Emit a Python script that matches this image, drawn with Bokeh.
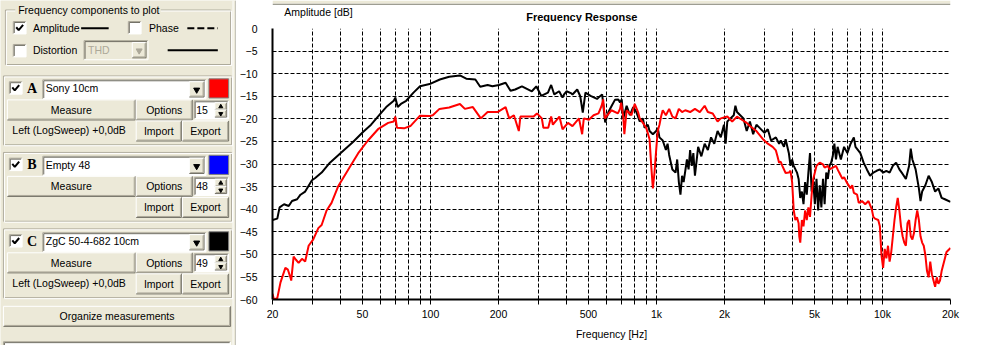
from bokeh.plotting import figure
from bokeh.models import Range1d, FixedTicker, CustomJSTickFormatter, Label
from bokeh.layouts import row, column
from bokeh.embed import file_html
from bokeh.resources import INLINE
from bokeh.core.properties import value

# ---------------- data ----------------
# Measurement C: ZgC 50-4-682 10cm (black)
freq_c = [20, 21.0, 21.5, 22.5, 23.6, 24.4, 25.7, 26.6, 27.9, 29.9, 30.9, 33.0, 35.9, 40.2, 45.3,
          50.3, 54.6, 60.9, 63.7, 68.8, 69.9, 71.6, 74.0, 78.1, 84.1, 89.9, 99.1, 110, 121, 135,
          144, 158, 166, 179, 188, 201, 215, 226, 237, 254, 281, 294, 309, 331, 342, 353, 371,
          384, 390, 400, 418, 425, 446, 460, 472, 485, 511, 546, 554, 575, 593, 613, 634, 655,
          678, 690, 702, 713, 738, 763, 789, 815, 843, 871, 886, 916, 932, 964, 997, 1013, 1031,
          1066, 1101, 1120, 1138, 1176, 1215, 1235, 1256, 1277, 1298, 1319, 1364, 1387, 1409,
          1433, 1456, 1480, 1529, 1580, 1634, 1688, 1744, 1802, 1864, 1926, 1989, 2023, 2058,
          2126, 2198, 2235, 2272, 2348, 2426, 2508, 2591, 2678, 2769, 2861, 3006, 3109, 3213,
          3376, 3488, 3548, 3667, 3728, 3853, 3918, 3983, 4050, 4186, 4256, 4327, 4400, 4473,
          4548, 4624, 4701, 4779, 4859, 4940, 5022, 5106, 5192, 5278, 5366, 5456, 5547, 5639,
          5733, 5829, 5926, 6025, 6126, 6228, 6332, 6437, 6545, 6764, 6992, 7228, 7471, 7597,
          7983, 8252, 8530, 8817, 9114, 9421, 9738, 10066, 10405, 10756, 11118, 11492, 11879,
          12279, 12693, 13120, 13339, 13562, 14019, 14491, 14733, 14979, 15483, 16004, 16543,
          17100, 17676, 18271, 18886, 20000]
db_c = [-42.4, -42.1, -39.6, -38.9, -39.3, -38.2, -37.8, -36.8, -36.1, -33.6, -33.1, -31.9, -29.7,
        -27.5, -25.2, -22.9, -21.3, -18.5, -17.4, -16.0, -15.3, -17.4, -16.7, -16.0, -14.2, -12.8,
        -12.3, -11.3, -10.7, -10.4, -11.1, -11.3, -12.9, -12.5, -12.8, -12.5, -12.0, -13.8, -13.5,
        -12.8, -13.9, -12.8, -14.9, -14.2, -12.5, -14.6, -13.9, -15.3, -14.6, -13.9, -14.3, -14.6,
        -13.5, -15.0, -18.6, -14.2, -14.9, -15.6, -15.3, -14.6, -20.8, -18.5, -17.1, -15.8, -15.7,
        -16.4, -15.7, -19.9, -17.1, -19.2, -17.4, -18.5, -20.6, -19.9, -22.0, -21.3, -22.7, -23.4,
        -22.7, -22.0, -24.1, -24.8, -26.9, -25.5, -28.0, -31.2, -31.9, -29.0, -34.0, -36.8, -32.6,
        -34.0, -29.0, -31.2, -26.9, -30.4, -27.6, -32.6, -26.2, -28.3, -25.5, -26.9, -24.1, -25.5,
        -22.7, -24.1, -21.3, -25.5, -20.6, -19.9, -19.2, -17.1, -18.5, -19.2, -19.9, -22.7, -20.6,
        -23.4, -21.3, -22.0, -23.1, -22.3, -24.8, -24.1, -25.5, -24.8, -26.2, -24.5, -27.6, -30.4,
        -29.0, -30.4, -31.9, -33.3, -37.5, -36.1, -38.9, -34.0, -36.8, -31.9, -27.6, -36.1, -34.0,
        -38.9, -33.3, -40.3, -34.7, -39.6, -33.3, -38.9, -31.9, -33.3, -30.4, -29.7, -28.3, -25.5,
        -29.0, -26.2, -27.6, -29.0, -26.2, -27.6, -25.5, -24.1, -26.2, -27.6, -29.7, -31.2, -32.6,
        -31.9, -31.5, -31.2, -31.9, -31.5, -31.9, -30.4, -29.7, -31.2, -32.2, -33.3, -30.4, -26.6,
        -29.0, -31.2, -35.4, -38.2, -36.1, -34.7, -32.6, -34.0, -36.1, -35.4, -37.5, -37.8, -38.4]

# Measurement A: Sony 10cm (red)
freq_a = [20, 20.3, 21.0, 21.7, 22.8, 23.4, 24.0, 24.2, 24.8, 25.4, 26.1, 27.0, 27.9, 28.9, 30.3,
          31.9, 33.0, 34.7, 36.5, 39.0, 43.3, 47.9, 52.9, 58.6, 65.0, 68.8, 69.9, 71.1, 76.4, 81.5,
          89.9, 99.1, 102.4, 109.6, 121, 135, 142, 154, 167, 179, 198, 215, 223, 234, 246, 250,
          286, 296, 311, 316, 332, 342, 348, 372, 384, 406, 425, 454, 469, 477, 502, 527, 554,
          572, 581, 591, 632, 675, 690, 698, 713, 721, 738, 775, 801, 829, 843, 871, 901, 932,
          948, 964, 980, 997, 1013, 1031, 1048, 1066, 1101, 1138, 1176, 1215, 1256, 1298, 1341,
          1409, 1480, 1555, 1634, 1688, 1774, 1864, 1926, 2058, 2163, 2272, 2387, 2508, 2591,
          2769, 2959, 3109, 3267, 3376, 3431, 3488, 3548, 3605, 3728, 3853, 3918, 3983, 4050,
          4117, 4186, 4256, 4284, 4327, 4400, 4473, 4548, 4624, 4701, 4779, 4859, 4940, 5022,
          5106, 5278, 5456, 5547, 5733, 5829, 6025, 6228, 6332, 6437, 6545, 6654, 6764, 6992,
          7228, 7349, 7471, 7723, 7852, 8116, 8390, 8673, 8965, 9114, 9267, 9579, 9738, 9901,
          10066, 10234, 10405, 10579, 10756, 10935, 11118, 11304, 11492, 11684, 11879, 12077,
          12279, 12484, 12693, 12905, 13120, 13339, 13562, 13788, 14019, 14252, 14491, 14733,
          14979, 15229, 15483, 15742, 16004, 16272, 16543, 16820, 17100, 17386, 17676, 17971,
          18271, 18576, 18886, 19201, 20000]
db_a = [-58.7, -60.0, -59.7, -56.2, -53.0, -53.4, -55.1, -55.8, -50.5, -51.2, -51.9, -51.0, -51.6,
        -48.1, -46.7, -44.2, -43.5, -40.3, -38.6, -35.0, -31.2, -27.6, -24.8, -22.3, -20.9, -20.6,
        -19.5, -22.0, -22.1, -21.6, -19.3, -19.4, -19.2, -17.8, -17.5, -16.7, -17.8, -17.4, -19.9,
        -18.5, -18.5, -17.4, -19.9, -19.2, -22.7, -19.5, -19.5, -18.8, -19.9, -22.0, -22.0, -19.5,
        -21.3, -19.5, -22.3, -20.9, -21.6, -19.9, -23.4, -19.9, -20.2, -19.2, -18.8, -17.1, -15.7,
        -19.9, -18.1, -18.8, -17.8, -16.4, -19.5, -23.4, -18.1, -19.2, -16.7, -18.5, -19.9, -20.9,
        -22.0, -24.5, -30.4, -35.4, -31.9, -26.9, -22.7, -21.3, -19.5, -18.1, -19.2, -17.8, -19.5,
        -19.9, -17.8, -18.5, -18.1, -18.5, -17.8, -18.5, -17.1, -18.5, -18.8, -20.6, -19.9, -19.5,
        -20.6, -19.5, -20.2, -20.9, -21.6, -22.7, -24.5, -25.5, -26.2, -27.0, -28.3, -29.7, -29.5,
        -30.4, -32.0, -31.9, -31.5, -34.0, -40.3, -42.4, -41.8, -43.1, -46.0, -47.4, -42.4, -43.8,
        -40.3, -42.4, -39.6, -41.7, -36.8, -33.3, -31.9, -30.4, -29.7, -30.1, -30.8, -30.4, -31.2,
        -30.8, -30.4, -31.2, -31.9, -32.6, -33.3, -32.9, -34.3, -35.4, -34.7, -36.4, -36.8, -38.6,
        -38.2, -38.9, -38.2, -40.0, -41.7, -42.1, -42.4, -43.8, -50.2, -53.0, -48.8, -50.9, -48.1,
        -51.6, -49.5, -46.0, -42.4, -39.6, -37.5, -40.3, -43.8, -46.0, -47.4, -48.1, -43.1, -42.4,
        -46.0, -46.7, -45.3, -42.4, -40.3, -42.4, -46.0, -47.4, -48.1, -50.2, -53.7, -55.1, -51.6,
        -54.4, -55.8, -57.2, -55.1, -56.5, -55.8, -53.7, -52.3, -50.9, -49.5, -48.6]

x_major = [20, 50, 100, 200, 500, 1000, 2000, 5000, 10000, 20000]
x_minor = [30, 40, 60, 70, 80, 90, 300, 400, 600, 700, 800, 900,
           3000, 4000, 6000, 7000, 8000, 9000]
y_ticks = [-60, -55, -50, -45, -40, -35, -30, -25, -20, -15, -10, -5, 0]

FONT = "Liberation Sans"
FS = "10.5px"
BG = "#ECE9D8"
DK = "#716F64"
MD = "#ACA899"
LT = "#FFFFFF"

# ---------------- left control panel ----------------
pp = figure(width=236, height=345, x_range=Range1d(0, 240), y_range=Range1d(361, 0),
            toolbar_location=None, output_backend="svg", min_border=0,
            x_axis_location=None, y_axis_location=None)
pp.grid.visible = False
pp.background_fill_color = BG
pp.border_fill_color = BG
pp.outline_line_color = None


def box(fig, x0, y0, x1, y1, fill, line=None, lw=1):
    fig.quad(left=x0, right=x1, top=y0, bottom=y1, fill_color=fill, line_color=line, line_width=lw)


def seg(fig, x0, y0, x1, y1, color, lw=1, dash="solid"):
    fig.segment(x0=x0, y0=y0, x1=x1, y1=y1, line_color=color, line_width=lw, line_dash=dash)


def txt(fig, x, y, s, size=FS, align="left", color="black", style="normal", font=FONT):
    fig.text(x=[x], y=[y], text=[s], text_font=value(font), text_font_size=size,
             text_align=align, text_baseline="middle", text_color=color, text_font_style=style)


def raised(x0, y0, x1, y1, label=None):
    box(pp, x0, y0, x1, y1, BG)
    seg(pp, x0, y0, x1, y0, LT)
    seg(pp, x0, y0, x0, y1, LT)
    seg(pp, x0, y1, x1, y1, DK)
    seg(pp, x1, y0, x1, y1, DK)
    seg(pp, x0 + 1, y1 - 1, x1 - 1, y1 - 1, MD)
    seg(pp, x1 - 1, y0 + 1, x1 - 1, y1 - 1, MD)
    if label:
        txt(pp, (x0 + x1) / 2, (y0 + y1) / 2, label, align="center")


def sunken(x0, y0, x1, y1, fill="white"):
    box(pp, x0, y0, x1, y1, fill)
    seg(pp, x0, y0, x1, y0, MD)
    seg(pp, x0, y0, x0, y1, MD)
    seg(pp, x0 + 1, y0 + 1, x1 - 1, y0 + 1, DK)
    seg(pp, x0 + 1, y0 + 1, x0 + 1, y1 - 1, DK)
    seg(pp, x0, y1, x1, y1, LT)
    seg(pp, x1, y0, x1, y1, LT)


def etched(x0, y0, x1, y1):
    box(pp, x0, y0, x1, y1, None, MD)
    box(pp, x0 + 1, y0 + 1, x1 + 1, y1 + 1, None, LT)


def checkbox(x0, y0, checked):
    sunken(x0, y0, x0 + 13, y0 + 13)
    if checked:
        pp.line(x=[x0 + 3, x0 + 5.5, x0 + 10], y=[y0 + 6, y0 + 9, y0 + 3.5],
                line_color="black", line_width=2)


def dropbtn(x0, y0, x1, y1, color="black"):
    raised(x0, y0, x1, y1)
    pp.scatter(x=[(x0 + x1) / 2], y=[(y0 + y1) / 2 + 0.5], marker="inverted_triangle",
               size=6, color=color)


# group box: frequency components
etched(5, 10, 234, 67)
box(pp, 15, 3, 163, 17, BG)
txt(pp, 18, 10, "Frequency components to plot")
checkbox(13, 22, True)
txt(pp, 33, 29, "Amplitude")
seg(pp, 82, 29, 110, 29, "black", 2)
checkbox(130, 22, False)
txt(pp, 151, 29, "Phase")
seg(pp, 190, 29, 221, 29, "black", 2, "7 3")
checkbox(13, 46, False)
txt(pp, 33, 52, "Distortion")
sunken(85, 42, 150, 62, fill=BG)
txt(pp, 89, 52, "THD", color=MD)
dropbtn(134, 44, 148, 60, color=MD)
seg(pp, 170, 52, 221, 52, "black", 2)

panels = [("A", "Sony 10cm", "#FF0000", "15", True),
          ("B", "Empty 48", "#0000FF", "48", False),
          ("C", "ZgC 50-4-682 10cm", "#000000", "49", True)]
for k, (letter, name, col, num, sub) in enumerate(panels):
    d = 80 * k
    etched(3, 79 + d, 235, 151 + d)
    checkbox(9, 85 + d, True)
    txt(pp, 32, 92 + d, letter, size="14px", style="bold", font="Liberation Serif", align="center")
    sunken(43, 83 + d, 209, 103 + d)
    txt(pp, 46, 92 + d, name)
    dropbtn(192, 85 + d, 207, 101 + d)
    box(pp, 212, 82 + d, 232, 102 + d, col, "#808080")
    raised(7, 104 + d, 137, 125 + d, "Measure")
    raised(138, 104 + d, 195, 125 + d, "Options")
    sunken(197, 105 + d, 232, 124 + d)
    txt(pp, 199, 114.5 + d, num)
    raised(218, 107 + d, 230, 114.5 + d)
    raised(218, 114.5 + d, 230, 122 + d)
    pp.scatter(x=[224, 224], y=[111 + d, 118.5 + d], marker=["triangle", "inverted_triangle"],
               size=4, color="black")
    if sub:
        txt(pp, 12, 136 + d, "Left (LogSweep) +0,0dB")
    raised(138, 126 + d, 184, 147 + d, "Import")
    raised(185, 126 + d, 232, 147 + d, "Export")

raised(3, 320, 234, 341, "Organize measurements")
sunken(3, 357, 234, 370)
seg(pp, 236.5, 0, 236.5, 361, LT)
seg(pp, 239.5, 0, 239.5, 361, "#A0A0A0")

# ---------------- header strip above the chart (titles) ----------------
pt = figure(width=731, height=22, x_range=Range1d(240, 983), y_range=Range1d(23, 0),
            toolbar_location=None, output_backend="svg", min_border=0,
            x_axis_location=None, y_axis_location=None)
pt.grid.visible = False
pt.outline_line_color = None
pt.background_fill_color = "white"
pt.border_fill_color = "white"
box(pt, 240, 0, 983, 3.4, BG)
box(pt, 240, 3.4, 983, 4.8, "#9D9D92")
txt(pt, 253, 12.5, "Amplitude [dB]")
txt(pt, 579, 17.5, "Frequency Response", size="11px", style="bold", align="center")

# ---------------- chart ----------------
p = figure(width=731, height=323, x_axis_type="log", x_range=Range1d(20, 20000),
           y_range=Range1d(-60, 0), toolbar_location=None, output_backend="svg",
           min_border_left=35, min_border_right=17, min_border_top=6, min_border_bottom=46)
p.background_fill_color = "white"
p.border_fill_color = "white"
p.outline_line_color = None

p.xaxis.ticker = FixedTicker(ticks=x_major, minor_ticks=x_minor)
p.xaxis.formatter = CustomJSTickFormatter(code="return tick >= 1000 ? (tick/1000) + 'k' : String(tick);")
p.xaxis.axis_line_width = 2
p.xaxis.axis_line_color = "black"
p.xaxis.major_tick_out = 5
p.xaxis.major_tick_in = 0
p.xaxis.minor_tick_out = 5
p.xaxis.minor_tick_in = 0
p.xaxis.major_tick_line_color = "black"
p.xaxis.minor_tick_line_color = "black"
p.xaxis.major_label_standoff = 3
p.xaxis.major_label_text_font = FONT
p.xaxis.major_label_text_font_size = FS
p.xaxis.major_label_text_color = "black"
p.xaxis.axis_label = "Frequency [Hz]"
p.xaxis.axis_label_standoff = 5
p.xaxis.axis_label_text_font = FONT
p.xaxis.axis_label_text_font_size = FS
p.xaxis.axis_label_text_font_style = "normal"
p.xaxis.axis_label_text_color = "black"

p.yaxis.ticker = FixedTicker(ticks=y_ticks)
p.yaxis.axis_line_width = 2
p.yaxis.axis_line_color = "black"
p.yaxis.major_tick_out = 0
p.yaxis.major_tick_in = 0
p.yaxis.minor_tick_out = 0
p.yaxis.minor_tick_in = 0
p.yaxis.major_label_standoff = 15
p.yaxis.major_label_text_font = FONT
p.yaxis.major_label_text_font_size = FS
p.yaxis.major_label_text_color = "black"

p.xgrid.ticker = FixedTicker(ticks=x_major + x_minor)
p.ygrid.ticker = FixedTicker(ticks=y_ticks)
for g in (p.xgrid, p.ygrid):
    g.grid_line_color = "black"
    g.grid_line_dash = "4 2"
    g.grid_line_width = 1
    g.grid_line_alpha = 1.0

p.line(freq_c, db_c, line_color="black", line_width=2)
p.line(freq_a, db_a, line_color="#FF0000", line_width=2)

# scroll arrows at the lower left of the chart area (outside the frame)
p.add_layout(Label(x=-25, y=-27, x_units="screen", y_units="screen", text="\u25b2",
                   text_font="DejaVu Sans", text_font_size="8px", text_align="center",
                   text_baseline="middle", text_color="black"))
p.add_layout(Label(x=-25, y=-38, x_units="screen", y_units="screen", text="\u25bc",
                   text_font="DejaVu Sans", text_font_size="8px", text_align="center",
                   text_baseline="middle", text_color="black"))

layout = row(pp, column(pt, p))
open("out.html", "w").write(file_html(layout, INLINE))
